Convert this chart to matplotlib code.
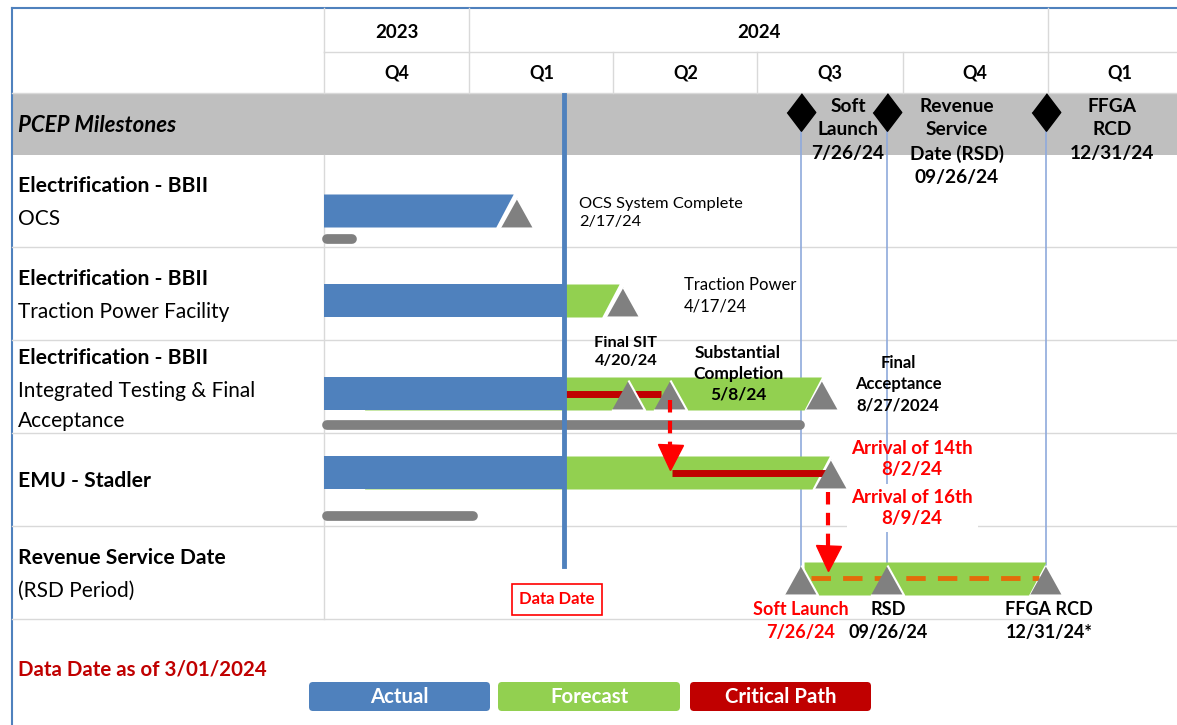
import numpy as np
import matplotlib.pyplot as plt
from matplotlib.patches import Rectangle, Polygon, FancyBboxPatch

plt.rcParams['font.family'] = ['Lato', 'DejaVu Sans']

ORIGIN = np.datetime64('2023-10-01')

years = ['2023', '2024']
year_spans = [('2023-10-01', '2024-01-01'), ('2024-01-01', '2025-01-01')]
quarters = ['Q4', 'Q1', 'Q2', 'Q3', 'Q4', 'Q1']
quarter_starts = ['2023-10-01', '2024-01-01', '2024-04-01', '2024-07-01', '2024-10-01', '2025-01-01']

row_titles = ['Electrification - BBII', 'Electrification - BBII', 'Electrification - BBII',
              'EMU - Stadler', 'Revenue Service Date']
row_subtitles = ['OCS', 'Traction Power Facility', 'Integrated Testing & Final\nAcceptance',
                 '', '(RSD Period)']

actual_start = ['2023-10-01', '2023-10-01', '2023-10-01', '2023-10-01', None]
actual_end = ['2024-01-29', '2024-03-01', '2024-02-29', '2024-02-29', None]
forecast_start = [None, '2024-03-01', '2023-10-27', '2023-10-27', '2024-07-31']
forecast_end = [None, '2024-04-05', '2024-08-11', '2024-08-16', '2024-12-31']
critical_start = [None, None, '2024-02-29', '2024-05-08', None]
critical_end = [None, None, '2024-05-01', '2024-08-14', None]
baseline_start = ['2023-09-30', None, '2023-09-30', '2023-09-30', None]
baseline_end = ['2023-10-22', None, '2024-07-31', '2024-01-06', None]

task_milestones = [['2024-01-31'], ['2024-04-07'], ['2024-04-10', '2024-05-07', '2024-08-11'],
                   ['2024-08-17'], ['2024-07-29', '2024-09-21', '2024-12-31']]

key_milestones = ['2024-07-29', '2024-09-21', '2024-12-31']
key_labels = ['Soft\nLaunch\n7/26/24', 'Revenue\nService\nDate (RSD)\n09/26/24', 'FFGA\nRCD\n12/31/24']

data_date = '2024-03-01'
rsd_period = ('2024-08-04', '2024-12-26')
emu_link = ('2024-05-07', '2024-08-15')

legend_labels = ['Actual', 'Forecast', 'Critical Path']

BLUE = '#4f81bd'
GREEN = '#92d050'
RED = '#c00000'
GREY = '#808080'
GRID = '#d9d9d9'

PPD = 724 / 458  # pixels per day on the timeline


def d(s):
    return float((np.datetime64(s) - ORIGIN).astype(int))


def px(x):
    return (x - 324) / PPD


fig = plt.figure(figsize=(11.77, 7.25), dpi=100)
ax = fig.add_axes([0, 0, 1, 1])
ax.set_xlim(px(0), px(1177))
ax.set_ylim(725, 0)
ax.axis('off')

# frame
ax.plot([px(12), px(12)], [8, 725], color=BLUE, lw=1.5)
ax.plot([px(12), px(1177)], [8, 8], color=BLUE, lw=1.5)

# header grid
ax.plot([d(quarter_starts[0]), px(1177)], [52, 52], color=GRID, lw=1)
ax.plot([px(12), px(1177)], [93, 93], color=GRID, lw=1)
for s in ['2023-10-01', '2024-01-01', '2025-01-01']:
    ax.plot([d(s), d(s)], [8, 52], color=GRID, lw=1)
for s in quarter_starts:
    ax.plot([d(s), d(s)], [52, 93], color=GRID, lw=1)
for y, (a, b) in zip(years, year_spans):
    ax.text((d(a) + d(b)) / 2, 32, y, ha='center', va='center', fontsize=13.5, fontweight='bold')
for i, q in enumerate(quarters):
    a = d(quarter_starts[i])
    b = a + 91.5
    ax.text((a + b) / 2, 73, q, ha='center', va='center', fontsize=13, fontweight='bold')

# milestone band
ax.add_patch(Rectangle((px(12), 93), px(1177) - px(12), 62, color='#bfbfbf', lw=0))
ax.text(px(18), 125, 'PCEP Milestones', ha='left', va='center', fontsize=16,
        fontweight='bold', style='italic')

# row grid
for y in [247, 340, 433, 526]:
    ax.plot([px(12), px(1177)], [y, y], color=GRID, lw=1)
ax.plot([px(12), px(1048)], [619, 619], color=GRID, lw=1)
ax.plot([px(324), px(324)], [155, 619], color=GRID, lw=1)

# row labels
title_y = [186, 279, 358, 481, 558]
for t, s, ty in zip(row_titles, row_subtitles, title_y):
    ax.text(px(18), ty, t, ha='left', va='center', fontsize=15.2, fontweight='bold')
    if s:
        ax.text(px(18), ty + 23, s, ha='left', va='top', fontsize=15, linespacing=1.6)

# key milestone guide lines and diamonds
guide_ends = [575, 565, 565]
diamond = [(0, 1), (0.76, 0), (0, -1), (-0.76, 0)]
for m, yend in zip(key_milestones, guide_ends):
    ax.plot([d(m), d(m)], [112, yend], color='#8faadc', lw=1.2, zorder=2)
    ax.plot(d(m), 112, marker=diamond, markersize=27, color='black', zorder=4)
key_text_x = [848, 957, 1112]
for x, lab in zip(key_text_x, key_labels):
    ax.text(px(x), 98, lab, ha='center', va='top', fontsize=13.8, fontweight='bold',
            linespacing=1.45, zorder=5)

BAR_H = 33
SLANT = 11  # days


def bar(start, end, yc, color, h=BAR_H, slant=SLANT, z=3):
    x0, x1 = d(start), d(end)
    pts = [(x0, yc - h / 2), (x1, yc - h / 2), (x1 - slant, yc + h / 2), (x0, yc + h / 2)]
    ax.add_patch(Polygon(pts, closed=True, color=color, lw=0, zorder=z))


bar_y = [211, 300, 393, 472, 578]
baseline_y = [239, None, 425, 516, None]
for i in range(5):
    yc = bar_y[i]
    if forecast_start[i]:
        bar(forecast_start[i], forecast_end[i], yc + 1, GREEN, z=3)
    if actual_start[i]:
        sl = SLANT if forecast_start[i] is None else 0
        bar(actual_start[i], actual_end[i], yc, BLUE, slant=sl, z=4)
    if critical_start[i]:
        ax.plot([d(critical_start[i]), d(critical_end[i])], [yc + 1, yc + 1],
                color=RED, lw=5, solid_capstyle='butt', zorder=5)
    if baseline_start[i]:
        # round caps stick out ~3 days on each side
        ax.plot([d(baseline_start[i]) + 3, d(baseline_end[i]) - 3], [baseline_y[i]] * 2,
                color=GREY, lw=7, solid_capstyle='round', zorder=3)

# RSD period dashed line
ax.plot([d(rsd_period[0]), d(rsd_period[1])], [578, 578], color='#e36c09', lw=3.5,
        dashes=(4, 2.5), zorder=5)

# task milestone triangles
tri = [(-1, -0.9), (1, -0.9), (0, 0.9)]
for i, ms in enumerate(task_milestones):
    for m in ms:
        ax.plot(d(m), bar_y[i] + 2, marker=tri, markersize=24, color=GREY,
                markeredgecolor='white', markeredgewidth=1.5, zorder=6)

# dashed red arrows
ax.plot([d(emu_link[0]), d(emu_link[0])], [400, 448], color='red', lw=3, dashes=(3, 2), zorder=7)
ax.plot(d(emu_link[0]), 457, marker='v', markersize=18, color='red', zorder=7)
ax.plot([d(emu_link[1]), d(emu_link[1])], [492, 548], color='red', lw=3, dashes=(3, 2), zorder=7)
ax.plot(d(emu_link[1]), 558, marker='v', markersize=18, color='red', zorder=7)

# data date
ax.plot([d(data_date), d(data_date)], [95, 566], color=BLUE, lw=3.5, zorder=6)
ax.text(px(557), 599, 'Data Date', ha='center', va='center', fontsize=12, fontweight='bold',
        color='red', bbox=dict(boxstyle='square,pad=0.45', fc='white', ec='red', lw=1.2))

# annotations
ax.text(px(579), 213, 'OCS System Complete\n2/17/24', ha='left', va='center', fontsize=11.8,
        linespacing=1.42)
ax.text(px(684), 296, 'Traction Power\n4/17/24', ha='left', va='center', fontsize=12,
        linespacing=1.42)
ax.text(px(626), 352, 'Final SIT\n4/20/24', ha='center', va='center', fontsize=11.8,
        fontweight='bold', linespacing=1.42, zorder=8)
ax.text(px(738), 374, 'Substantial\nCompletion\n5/8/24', ha='center', va='center', fontsize=12.5,
        fontweight='bold', linespacing=1.38, zorder=8)
ax.text(px(898), 384, 'Final\nAcceptance\n8/27/2024', ha='center', va='center', fontsize=12,
        fontweight='bold', linespacing=1.42, zorder=8)
ax.text(px(912), 459, 'Arrival of 14th\n8/2/24', ha='center', va='center', fontsize=13.5,
        fontweight='bold', color='red', linespacing=1.33, zorder=8)
ax.text(px(912), 508, 'Arrival of 16th\n8/9/24', ha='center', va='center', fontsize=13.5,
        fontweight='bold', color='red', linespacing=1.33, zorder=8,
        bbox=dict(boxstyle='square,pad=0.25', fc='white', ec='none'))

bottom_labels = ['Soft Launch\n7/26/24', 'RSD\n09/26/24', 'FFGA RCD\n12/31/24*']
bottom_colors = ['red', 'black', 'black']
bottom_x = [801, 888, 1049]
for x, lab, c in zip(bottom_x, bottom_labels, bottom_colors):
    ax.text(px(x), 621, lab, ha='center', va='center', fontsize=13, fontweight='bold',
            color=c, linespacing=1.45, zorder=8)

ax.text(px(18), 669, 'Data Date as of 3/01/2024', ha='left', va='center', fontsize=14.8,
        fontweight='bold', color=RED)

# legend boxes
legend_colors = [BLUE, GREEN, RED]
legend_x = [(309, 490), (498, 680), (690, 871)]
for lab, c, (a, b) in zip(legend_labels, legend_colors, legend_x):
    box = FancyBboxPatch((px(a), 682), px(b) - px(a), 29, boxstyle='round,pad=0,rounding_size=2.5',
                         mutation_aspect=1.6, fc=c, ec='none')
    ax.add_patch(box)
    ax.text((px(a) + px(b)) / 2, 697, lab, ha='center', va='center', fontsize=14.7,
            fontweight='bold', color='white')

fig.savefig('out.png', dpi=100)
